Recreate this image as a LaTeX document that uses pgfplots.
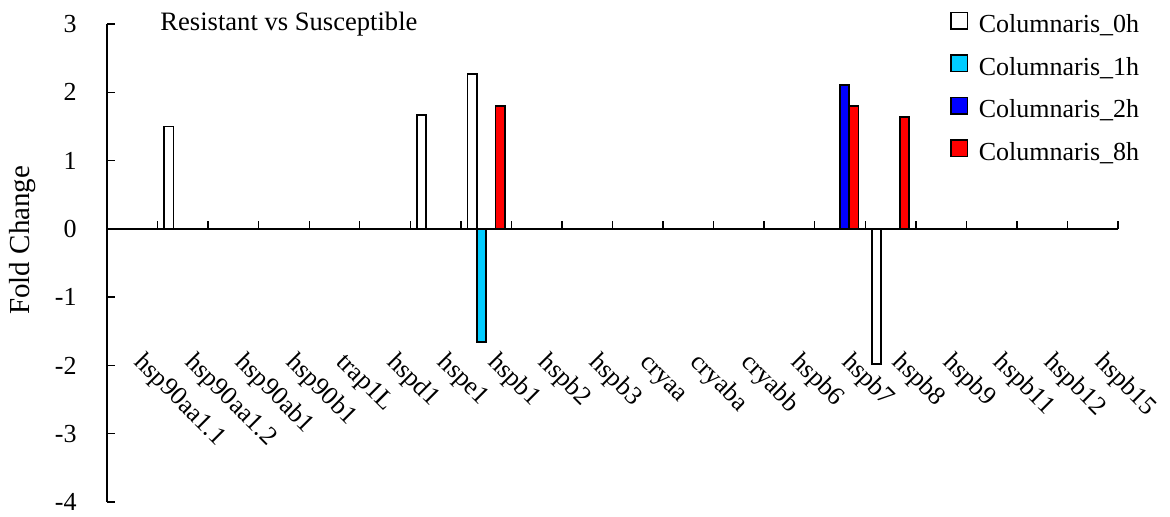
\documentclass[border=0pt]{standalone}
\usepackage{fontspec}
\setmainfont{Liberation Serif}
\usepackage{pgfplots}
\pgfplotsset{compat=1.18}
\definecolor{cyanbar}{RGB}{0,204,255}
\definecolor{bluebar}{RGB}{0,0,255}
\definecolor{redbar}{RGB}{255,0,0}
\begin{document}
\fontsize{13}{15}\selectfont
\begin{tikzpicture}
\useasboundingbox (-53.5pt,-7pt) rectangle (531.5pt,251pt);
\begin{axis}[
  at={(0pt,0pt)}, anchor=south west,
  scale only axis, width=505.5pt, height=239pt,
  xmin=-0.5, xmax=19.5, ymin=-4, ymax=3,
  clip=false,
  axis y line=left, axis x line=middle,
  axis line style={-, line width=0.7pt, black},
  hide obscured x ticks=false, hide obscured y ticks=false,
  ytick={-4,-3,-2,-1,0,1,2,3},
  ytick align=inside, xtick align=inside,
  major tick length=4pt,
  tick style={line width=0.7pt, black},
  /pgf/number format/assume math mode=true,
  yticklabel style={inner sep=0pt, anchor=east, xshift=-15pt, font=\fontsize{13}{15}\selectfont},
  xtick={0.5,1.5,...,19.5},
  xticklabels={},
  extra x ticks={0,1,...,19},
  extra x tick labels={hsp90aa1.1,hsp90aa1.2,hsp90ab1,hsp90b1,trap1L,hspd1,hspe1,hspb1,hspb2,hspb3,cryaa,cryaba,cryabb,hspb6,hspb7,hspb8,hspb9,hspb11,hspb12,hspb15},
  extra x tick style={major tick length=0pt, tick style={draw=none},
     xticklabel style={xshift=7pt, yshift=-60.5pt, rotate=-45, anchor=north west, inner sep=0pt, text height=9pt, text depth=0pt, font=\fontsize{13}{15}\selectfont}},
  ylabel={Fold Change},
  ylabel style={at={(axis description cs:-0.0762,0.391)}, anchor=base west, inner sep=0pt, rotate=0, font=\fontsize{14.5}{16}\selectfont},
  legend style={at={(axis description cs:0.8338,1.027)}, anchor=north west, draw=none, fill=none, inner sep=0pt,
     row sep=7.8pt, column sep=0pt,
     nodes={inner sep=0pt, text height=9pt, text depth=3pt, font=\fontsize{13}{15}\selectfont}},
  legend cell align=left,
  legend image code/.code={\draw[#1, line width=0.7pt] (0pt,-1.15pt) rectangle (8.3pt,7.15pt); \path (13.5pt,0pt);},
]
\addplot[ybar, bar width=0.184, bar shift=-0.276, fill=white, draw=black, line width=0.8pt]
  coordinates {(1,1.50) (6,1.67) (7,2.27) (15,-1.98)};
\addlegendentry{Columnaris\_0h}
\addplot[ybar, bar width=0.184, bar shift=-0.092, fill=cyanbar, draw=black, line width=0.8pt]
  coordinates {(7,-1.66)};
\addlegendentry{Columnaris\_1h}
\addplot[ybar, bar width=0.184, bar shift=0.092, fill=bluebar, draw=black, line width=0.8pt]
  coordinates {(14,2.11)};
\addlegendentry{Columnaris\_2h}
\addplot[ybar, bar width=0.184, bar shift=0.276, fill=redbar, draw=black, line width=0.8pt]
  coordinates {(7,1.80) (14,1.80) (15,1.64)};
\addlegendentry{Columnaris\_8h}
\node[anchor=base west, inner sep=0pt, font=\fontsize{13.3}{15}\selectfont] at (axis description cs:0.0524,0.9874) {Resistant vs Susceptible};
\end{axis}
\end{tikzpicture}
\end{document}
